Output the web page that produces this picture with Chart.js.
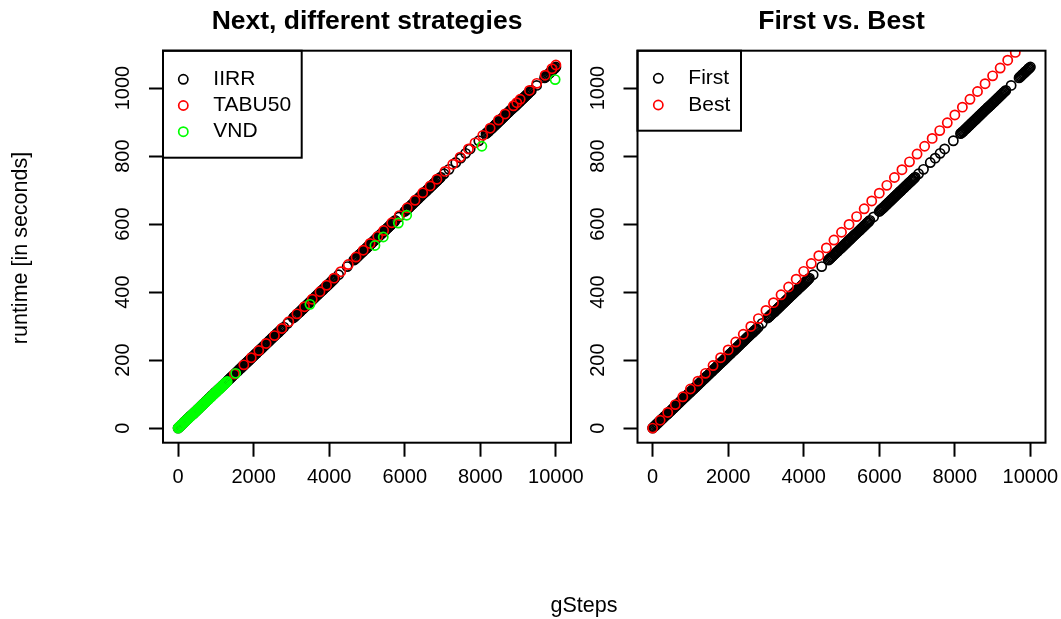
<!DOCTYPE html>
<html><head><meta charset="utf-8">
<script src="https://cdn.jsdelivr.net/npm/chart.js@4.4.1/dist/chart.umd.min.js"></script>
<style>
html,body{margin:0;padding:0;background:#fff;overflow:hidden}
#wrap{position:relative;width:1061px;height:619px;background:#fff}
canvas{position:absolute;left:0;top:0}
</style></head><body>
<div id="wrap"><canvas id="c1" width="1061" height="619"></canvas><canvas id="c2" width="1061" height="619"></canvas></div>
<script>
// ---------- tick labels ----------
const xTicks = [0, 2000, 4000, 6000, 8000, 10000];
const yTicks = [0, 200, 400, 600, 800, 1000];

// ---------- IIRR / First (same runs) ----------
const firstSteps = [
 0,25,50,75,100,125,150,175,200,225,250,275,300,325,350,375,400,425,450,475,500,525,550,575,600,625,650,675,700,725,750,775,800,825,850,875,900,925,950,975,1000,1025,1050,1075,1100,1125,1150,1175,1200,1225,1250,1275,1300,1325,1350,1375,1400,1425,1450,
 1500,1525,1550,1575,1600,1625,1650,1675,1700,1725,1750,1775,1800,1825,1850,1875,1900,1925,1950,1975,2000,2025,2050,2075,2100,2125,2150,2175,2200,2225,2250,2275,2300,2325,2350,2375,2400,2425,2450,2475,2500,2525,2550,2575,2600,2625,2650,2675,2700,2725,2750,
 2800,2900,
 3050,3075,3100,3125,3150,3175,3200,3225,3250,3275,3300,3325,3350,3375,3400,3425,3450,3475,3500,3525,3550,3575,3600,3625,3650,3675,3700,3725,3750,3775,3800,3825,3850,3875,3900,3925,3950,3975,4000,4025,4050,4075,4100,4125,4150,
 4250,4475,
 4650,4675,4700,4725,4750,4775,4800,4825,4850,4875,4900,4925,4950,4975,5000,5025,5050,5075,5100,5125,5150,5175,5200,5225,5250,5275,5300,5325,5350,5375,5400,5425,5450,5475,5500,5525,5550,5575,5600,5625,5650,5675,5700,5725,5750,
 5850,
 6000,6025,6050,6075,6100,6125,6150,6175,6200,6225,6250,6275,6300,6325,6350,6375,6400,6425,6450,6475,6500,6525,6550,6575,6600,6625,6650,6675,6700,6725,6750,6775,6800,6825,6850,6875,6900,6925,6950,
 7040,7170,7350,7480,7610,7730,7960,
 8150,8175,8200,8225,8250,8275,8300,8325,8350,8375,8400,8425,8450,8475,8500,8525,8550,8575,8600,8625,8650,8675,8700,8725,8750,8775,8800,8825,8850,8875,8900,8925,8950,8975,9000,9025,9050,9075,9100,9125,9150,9175,9200,9225,9250,9275,9300,9325,9350,
 9490,
 9700,9725,9750,9775,9800,9825,9850,9875,9900,9925,9950,9975,10000
];
const firstRuntime = [
 0,3,5,8,11,13,16,19,21,24,27,29,32,35,37,40,42,45,48,50,53,56,58,61,64,66,69,72,74,77,80,82,85,88,90,93,96,98,101,104,106,109,112,114,117,119,122,125,127,130,133,135,138,141,143,146,149,151,154,
 159,162,165,167,170,173,175,178,181,183,186,189,191,194,196,199,202,204,207,210,212,215,218,220,223,226,228,231,234,236,239,242,244,247,250,252,255,258,260,263,266,268,271,273,276,279,281,284,287,289,292,
 297,308,
 324,327,329,332,335,337,340,342,345,348,350,353,356,358,361,364,366,369,372,374,377,380,382,385,388,390,393,396,398,401,404,406,409,412,414,417,419,422,425,427,430,433,435,438,441,
 451,475,
 494,496,499,502,504,507,510,512,515,518,520,523,526,528,531,534,536,539,542,544,547,550,552,555,558,560,563,566,568,571,573,576,579,581,584,587,589,592,595,597,600,603,605,608,611,
 621,
 637,640,643,645,648,650,653,656,658,661,664,666,669,672,674,677,680,682,685,688,690,693,696,698,701,704,706,709,712,714,717,720,722,725,727,730,733,735,738,
 748,761,781,794,808,821,845,
 866,868,871,873,876,879,881,884,887,889,892,895,897,900,903,905,908,911,913,916,919,921,924,927,929,932,935,937,940,943,945,948,950,953,956,958,961,964,966,969,972,974,977,980,982,985,988,990,993,
 1008,
 1030,1033,1035,1038,1041,1043,1046,1049,1051,1054,1057,1059,1062
];

// ---------- TABU50 ----------
const tabuSteps = [1490,1740,1935,2135,2330,2550,2745,2930,3145,3345,3550,3755,3930,4125,4305,4505,4710,4900,5080,5285,5440,5655,5855,6065,6270,6475,6670,6850,7065,7270,7465,7685,7860,8065,8260,8480,8655,8875,8965,9055,9300,9495,9715,9895,10000];
const tabuRuntime = [159,186,207,228,249,272,293,313,336,357,379,401,420,441,460,481,503,523,543,564,581,604,625,648,670,692,712,732,755,776,797,821,839,861,882,906,924,948,957,967,993,1014,1038,1057,1068];

// ---------- VND ----------
const vndSteps = [0,25,50,75,100,125,150,175,200,225,250,275,300,325,350,375,400,425,450,475,500,525,550,575,600,625,650,675,700,725,750,775,800,825,850,875,900,925,950,975,1000,1025,1050,1075,1100,1125,1150,1175,1200,1225,1250,1275,1300,
 1525,3490,5210,5430,5830,6050,8040,9980];
const vndRuntime = [0,3,5,8,11,13,16,18,21,24,26,29,32,34,37,40,42,45,47,50,53,55,58,61,63,66,69,71,74,76,79,82,84,87,90,92,95,98,100,103,106,108,111,113,116,119,121,124,127,129,132,135,137,
 161,364,537,562,603,626,829,1025];

// ---------- Best ----------
const bestSteps = [0,200,400,600,800,1000,1200,1400,1600,1800,2000,2200,2400,2600,2800,3000,3200,3400,3600,3800,4000,4200,4400,4600,4800,5000,5200,5400,5600,5800,6000,6200,6400,6600,6800,7000,7200,7400,7600,7800,8000,8200,8400,8600,8800,9000,9200,9400,9600];
const bestRuntime = [0,23,46,69,92,115,138,161,184,207,230,253,276,299,322,346,369,392,415,438,461,484,507,530,553,576,599,622,645,668,691,714,737,760,783,806,829,852,875,898,921,944,967,990,1013,1036,1059,1082,1105];

const titles = ['Next, different strategies', 'First vs. Best'];
const xLabel = 'gSteps';
const yLabel = 'runtime [in seconds]';

// ---------- drawing ----------
const FONT = '"Liberation Sans", Arial, Helvetica, sans-serif';
Chart.defaults.font.family = FONT;
const PR = 4.6, PW = 1.7;
const pts = (xs, ys) => xs.map((x, i) => ({x: x, y: ys[i]}));
function ds(label, xs, ys, color, order) {
  return {label, data: pts(xs, ys), borderColor: color, backgroundColor: 'rgba(0,0,0,0)',
    pointBorderColor: color, pointBackgroundColor: 'rgba(0,0,0,0)', pointRadius: PR,
    pointBorderWidth: PW, pointHoverRadius: PR, showLine: false, clip: 0, order};
}

const rPlot = {
  id: 'rPlot',
  afterDraw(chart, args, o) {
    const ctx = chart.ctx, a = chart.chartArea;
    ctx.save();
    ctx.strokeStyle = '#000'; ctx.lineWidth = 2;
    ctx.strokeRect(a.left, a.top, a.right - a.left, a.bottom - a.top);
    // title
    ctx.fillStyle = '#000';
    ctx.font = 'bold ' + o.titleSize + 'px ' + FONT;
    ctx.textAlign = 'center'; ctx.textBaseline = 'alphabetic';
    ctx.fillText(o.title, (a.left + a.right) / 2, o.titleY);
    // legend
    ctx.lineWidth = 2;
    ctx.strokeRect(a.left, a.top, o.legW, o.legH);
    ctx.font = o.legSize + 'px ' + FONT;
    ctx.textAlign = 'left'; ctx.textBaseline = 'middle';
    chart.data.datasets.forEach((d, i) => {
      const cy = a.top + o.legRow0 + i * o.legStep;
      ctx.beginPath(); ctx.arc(a.left + o.symX, cy, PR, 0, Math.PI * 2);
      ctx.lineWidth = PW; ctx.strokeStyle = d.borderColor; ctx.stroke();
      ctx.fillStyle = '#000';
      ctx.fillText(d.label, a.left + o.textX, cy);
    });
    if (o.outer) {
      ctx.font = o.labSize + 'px ' + FONT;
      ctx.fillStyle = '#000';
      ctx.textAlign = 'center'; ctx.textBaseline = 'alphabetic';
      ctx.fillText(xLabel, 584, 612);
      ctx.translate(26.5, 248); ctx.rotate(-Math.PI / 2);
      ctx.fillText(yLabel, 0, 0);
    }
    ctx.restore();
  }
};

function axis(ticksArr, min, max, isY) {
  return {
    type: 'linear', min, max, position: isY ? 'left' : 'bottom',
    afterBuildTicks: s => { s.ticks = ticksArr.map(v => ({value: v})); },
    afterFit: s => {
      if (isY) { s.width = 60; s.paddingTop = 0; s.paddingBottom = 0; }
      else { s.height = 60; s.paddingLeft = 0; s.paddingRight = 0; }
    },
    ticks: {
      callback: v => String(v), color: '#000', font: {size: 20, family: FONT},
      autoSkip: false, padding: isY ? 3 : 9,
      minRotation: isY ? 90 : 0, maxRotation: isY ? 90 : 0,
      crossAlign: isY ? 'center' : 'near'
    },
    grid: {display: true, drawOnChartArea: false, drawTicks: true, tickLength: 14,
      tickWidth: 2, tickColor: '#000', color: '#000'},
    border: {display: false}
  };
}

function makeChart(id, datasets, areaLeft, areaRight, opts) {
  return new Chart(document.getElementById(id), {
    type: 'scatter',
    data: {datasets},
    options: {
      responsive: false, animation: false, events: [],
      layout: {padding: {left: areaLeft - 60, right: 1061 - areaRight, top: 50.7, bottom: 619 - 442.7 - 60}},
      scales: {x: axis(xTicks, -400, 10400, false), y: axis(yTicks, -43, 1110, true)},
      plugins: {legend: {display: false}, tooltip: {enabled: false}, title: {display: false}, rPlot: opts}
    },
    plugins: [rPlot]
  });
}

makeChart('c1', [
  ds('IIRR', firstSteps, firstRuntime, '#000000', 3),
  ds('TABU50', tabuSteps, tabuRuntime, '#FF0000', 2),
  ds('VND', vndSteps, vndRuntime, '#00FF00', 1)
], 163, 571, {title: titles[0], titleSize: 26.5, titleY: 28.5, legW: 138.7, legH: 107, legRow0: 28.6,
  legStep: 26.2, symX: 20.3, textX: 50.3, legSize: 21, outer: true, labSize: 21.5});

makeChart('c2', [
  ds('First', firstSteps, firstRuntime, '#000000', 2),
  ds('Best', bestSteps, bestRuntime, '#FF0000', 1)
], 637.5, 1045.5, {title: titles[1], titleSize: 26.5, titleY: 28.5, legW: 103.5, legH: 80, legRow0: 27.6,
  legStep: 26.7, symX: 20.8, textX: 50.8, legSize: 21, outer: false});
</script>
</body></html>
